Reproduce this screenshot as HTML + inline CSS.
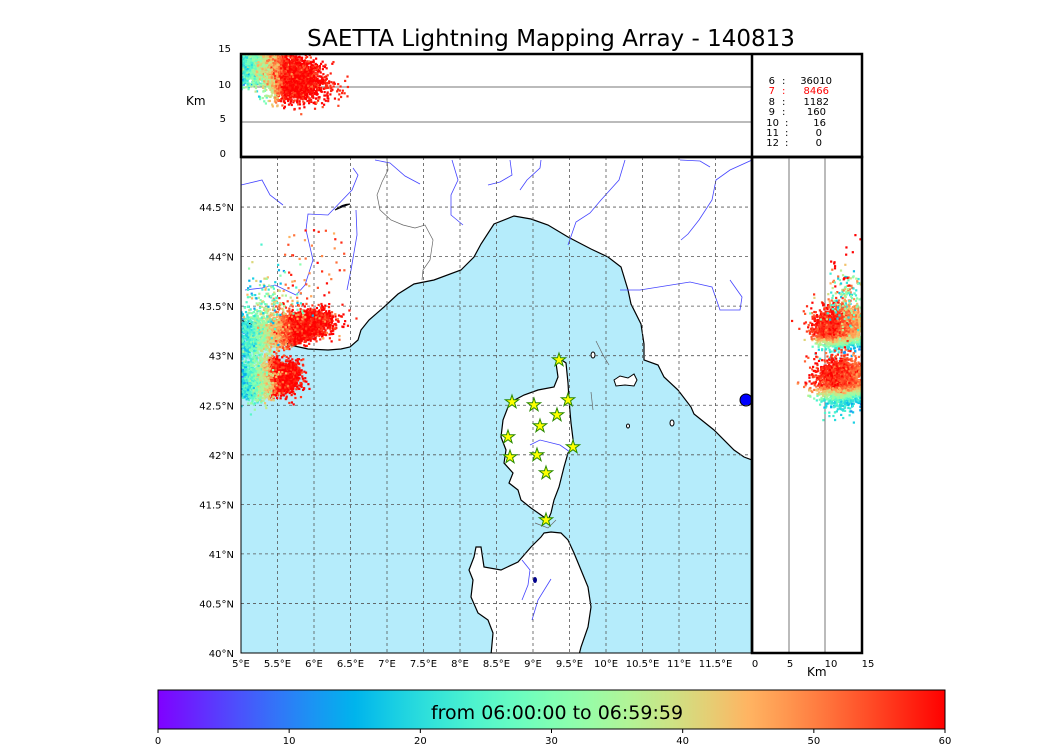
<!DOCTYPE html>
<html><head><meta charset="utf-8"><style>
body{margin:0;background:#fff;}
svg text{font-family:"DejaVu Sans","Liberation Sans",sans-serif;}
</style></head><body>
<svg id="s" width="1050" height="750" xmlns="http://www.w3.org/2000/svg">
<defs>
<clipPath id="cm"><rect x="241" y="157" width="511" height="496"/></clipPath>
<clipPath id="ct"><rect x="241" y="54" width="511" height="103"/></clipPath>
<clipPath id="cr"><rect x="752" y="157" width="110" height="496"/></clipPath>
<linearGradient id="rb" x1="0" x2="1" y1="0" y2="0"></linearGradient>
<polygon id="star" points="0,-7 1.6,-2.2 6.7,-2.2 2.6,0.8 4.1,5.7 0,2.7 -4.1,5.7 -2.6,0.8 -6.7,-2.2 -1.6,-2.2"/>
</defs>
<text x="551" y="46" font-size="23" text-anchor="middle">SAETTA Lightning Mapping Array - 140813</text>

<g clip-path="url(#cm)">
<rect x="241" y="157" width="511" height="496" fill="#b5ecfb"/>
<polygon fill="#fff" stroke="#000" stroke-width="1.2" points="241,157 241,320 264,330 274,337 290,345 308,349 328,350 341,349 350,347 358,340 361,330 369,320 384,307 398,294 414,284 434,280 461,270 474,257 481,244 494,224 514,216 531,219 548,225 568,237 591,249 608,257 621,267 628,290 631,304 641,324 644,344 644,360 658,365 664,377 678,390 691,407 694,414 714,430 734,450 744,457 752,460 752,157"/>
<polygon fill="#fff" stroke="#000" stroke-width="1.2" points="559,358 566,363 568,383 569,400 571,423 574,447 568,453 564,467 559,487 554,500 551,513 548,520 541,515 531,508 521,500 518,490 509,483 513,473 504,463 506,450 501,437 503,420 508,407 511,402 524,395 538,390 554,387 558,377 556,363"/>
<polygon fill="#fff" stroke="#000" stroke-width="1.2" points="544,533 551,532 561,533 568,540 574,553 581,570 588,587 591,607 588,627 581,647 579,655 491,655 493,633 488,620 478,613 471,597 473,580 469,570 474,557 476,547 481,547 484,567 501,570 518,562 531,547 541,537"/>
<polygon fill="#fff" stroke="#000" points="614,380 620,376 628,378 634,374 637,380 634,386 625,385 616,386"/>
<ellipse cx="593" cy="355" rx="2" ry="3" fill="#fff" stroke="#000"/>
<ellipse cx="628" cy="426" rx="1.5" ry="2" fill="#fff" stroke="#000"/>
<ellipse cx="672" cy="423" rx="2" ry="3" fill="#fff" stroke="#000"/>
<ellipse cx="746" cy="400" rx="6" ry="6" fill="#00f" stroke="#000"/>
<path d="M335,210 Q342,204 350,204 L342,207 Z" fill="#00008b" stroke="#000"/>
<g fill="none" stroke="#4444ff" stroke-width="0.8">
<path d="M241,185 L262,180 L270,195 L283,205"/>
<path d="M353,168 L358,175 L352,190 L328,215 L308,214 L306,230 L313,260 L305,285 L296,295 L275,285 L262,288 L245,290"/>
<path d="M356,210 L357,235 L351,270 L347,290"/>
<path d="M375,160 L390,163 L405,176 L420,184"/>
<path d="M452,160 L458,180 L451,195 L451,215 L463,225"/>
<path d="M510,160 L512,175 L500,182 L488,185"/>
<path d="M541,160 L540,168 L527,180 L520,190"/>
<path d="M625,160 L619,180 L610,190 L601,200 L590,213 L576,222 L568,245"/>
<path d="M752,160 L730,170 L716,180 L712,200 L699,220 L688,234 L681,240"/>
<path d="M620,290 L640,290 L690,282 L712,287 L720,310 L740,310 L742,297 L730,280"/>
<path d="M680,160 L700,161 L710,167"/>
<path d="M522,560 L530,570 L528,585 L522,600"/>
<path d="M551,579 L538,600 L532,620"/>
<path d="M530,445 L540,440 L560,445 L570,452"/>
</g>
<g fill="none" stroke="#666" stroke-width="0.7">
<path d="M387,160 L388,170 L382,182 L377,195 L380,210 L391,220 L403,225 L415,228 L425,225 L433,240 L430,260 L423,270 L422,280"/>
<path d="M596,341 L603,355 L609,365"/>
<path d="M591,392 L593,410"/>
<path d="M535,523 L548,528 L556,520"/>
</g>
<ellipse cx="535" cy="580" rx="2" ry="3" fill="#00008b"/>
<g id="grid" stroke="#555" stroke-width="0.8" stroke-dasharray="3,3"></g>
<g id="mp"></g>
<g id="stars" fill="#ff0" stroke="#2a8a00" stroke-width="1"></g>
</g>
<rect x="241" y="157" width="511" height="496" fill="none" stroke="#000" stroke-width="1"/>

<g clip-path="url(#ct)">
<line x1="241" x2="752" y1="87" y2="87" stroke="#777"/>
<line x1="241" x2="752" y1="122" y2="122" stroke="#777"/>
<g id="tp"></g>
</g>
<rect x="241" y="54" width="621" height="103" fill="none" stroke="#000" stroke-width="2.5"/>
<line x1="752" x2="752" y1="54" y2="653" stroke="#000" stroke-width="2.5"/>
<line x1="241" x2="862" y1="157" y2="157" stroke="#000" stroke-width="2.5"/>
<g font-size="10" text-anchor="end">
<text x="231" y="52">15</text><text x="231" y="88">10</text><text x="226" y="122">5</text><text x="226" y="157">0</text>
</g>
<text x="186" y="105" font-size="12">Km</text>
<g font-size="10">
<text x="775" y="84" text-anchor="end">6</text><text x="782" y="84">:</text><text x="832" y="84" text-anchor="end">36010</text>
<g fill="#f00"><text x="775" y="94" text-anchor="end">7</text><text x="782" y="94">:</text><text x="829" y="94" text-anchor="end">8466</text></g>
<text x="775" y="105" text-anchor="end">8</text><text x="782" y="105">:</text><text x="829" y="105" text-anchor="end">1182</text>
<text x="775" y="115" text-anchor="end">9</text><text x="782" y="115">:</text><text x="826" y="115" text-anchor="end">160</text>
<text x="779" y="126" text-anchor="end">10</text><text x="785" y="126">:</text><text x="826" y="126" text-anchor="end">16</text>
<text x="779" y="136" text-anchor="end">11</text><text x="785" y="136">:</text><text x="822" y="136" text-anchor="end">0</text>
<text x="779" y="146" text-anchor="end">12</text><text x="785" y="146">:</text><text x="822" y="146" text-anchor="end">0</text>
</g>

<g clip-path="url(#cr)">
<line x1="789" x2="789" y1="157" y2="653" stroke="#777"/>
<line x1="825" x2="825" y1="157" y2="653" stroke="#777"/>
<g id="rp"></g>
</g>
<rect x="752" y="157" width="110" height="496" fill="none" stroke="#000" stroke-width="2.5"/>
<g font-size="10" text-anchor="middle">
<text x="755" y="667">0</text><text x="790" y="667">5</text><text x="831" y="667">10</text><text x="868" y="667">15</text>
</g>
<text x="807" y="676" font-size="12">Km</text>
<g id="ax" font-size="10"></g>

<rect id="cb" x="158" y="690" width="787" height="39" stroke="#000" stroke-width="1"/>
<text x="557" y="719" font-size="19" text-anchor="middle">from 06:00:00 to 06:59:59</text>
<g font-size="10" text-anchor="middle" id="cbt"></g>
</svg>
<script>
var NS="http://www.w3.org/2000/svg";
function el(p,t,a){var e=document.createElementNS(NS,t);for(var k in a)e.setAttribute(k,a[k]);p.appendChild(e);return e;}
function rb(x){var r=Math.min(1,Math.abs(2*x-0.5)),g=Math.sin(Math.PI*x),b=Math.cos(Math.PI*x/2);
return "rgb("+Math.round(r*255)+","+Math.round(g*255)+","+Math.round(Math.max(0,b)*255)+")";}
var s=7;function R(){s=(s*16807)%2147483647;return s/2147483647;}
function G(){return Math.sqrt(-2*Math.log(R()+1e-9))*Math.cos(2*Math.PI*R());}
var g=document.getElementById("rb");
for(var i=0;i<=20;i++)el(g,"stop",{offset:i/20,"stop-color":rb(i/20)});
document.getElementById("cb").setAttribute("fill","url(#rb)");
var cbt=document.getElementById("cbt");
for(i=0;i<=6;i++){var x=158+i*787/6;el(cbt,"line",{x1:x,x2:x,y1:729,y2:733,stroke:"#000"});el(cbt,"text",{x:x,y:744}).textContent=i*10;}
var gr=document.getElementById("grid"),ax=document.getElementById("ax");
function X(l){return 241+(l-5)*73;}function Y(l){return 653-(l-40)*99.1;}
for(var l=5.5;l<12;l+=0.5)el(gr,"line",{x1:X(l),x2:X(l),y1:157,y2:653});
for(l=40.5;l<45;l+=0.5)el(gr,"line",{x1:241,x2:752,y1:Y(l),y2:Y(l)});
for(l=5;l<12;l+=0.5){var t=el(ax,"text",{x:X(l),y:667,"text-anchor":"middle"});t.textContent=(l%1?l.toFixed(1):l)+"°E";}
for(l=40;l<45;l+=0.5){var t=el(ax,"text",{x:234,y:Y(l)+4,"text-anchor":"end"});t.textContent=(l%1?l.toFixed(1):l)+"°N";}
var st=document.getElementById("stars");
[[559,360],[512,402],[534,405],[568,400],[557,415],[540,426],[508,437],[573,447],[510,457],[537,455],[546,473],[546,520]].forEach(function(p){el(st,"use",{href:"#star",x:p[0],y:p[1]});});
var mp=document.getElementById("mp"),tp=document.getElementById("tp"),rp=document.getElementById("rp");
function dot(p,x,y,c){el(p,"rect",{x:x-1,y:y-1,width:2.2,height:2.2,fill:c});}
function tcol(f){return rb(Math.max(0,Math.min(1,f)));}
function cl(v){return Math.max(0,Math.min(1,v));}
for(i=0;i<3000;i++){var x=298+G()*15,y=327+G()*7+(300-x)*0.2;var f=0.3+0.7*cl((x-252)/40)+G()*0.06;dot(mp,x,y,tcol(f));}
for(i=0;i<1100;i++){var x=256+G()*15,y=328+G()*13+(280-x)*0.3;var f=0.3+0.6*cl((x-241)/45)+G()*0.08;dot(mp,x,y,tcol(f));}
for(i=0;i<150;i++){var x=265+G()*20,y=300+G()*16;dot(mp,x,y,tcol(0.2+R()*0.6));}
for(i=0;i<70;i++){dot(mp,285+R()*60,230+R()*110,tcol(0.75+R()*0.25));}
for(i=0;i<2200;i++){var x=278+G()*10,y=377+G()*8;var f=0.35+0.65*cl((x-250)/25)+G()*0.06;dot(mp,x,y,tcol(f));}
for(i=0;i<1100;i++){var x=252+G()*11,y=382+G()*9;var f=0.3+0.5*cl((x-241)/35)+G()*0.08;dot(mp,x,y,tcol(f));}
for(i=0;i<3200;i++){var x=290+G()*15,y=78+G()*10+(x-290)*0.15;var f=0.3+0.7*cl((x-255)/30)+G()*0.06;dot(tp,x,y,tcol(f));}
for(i=0;i<1500;i++){var x=252+G()*14,y=64+G()*10;var f=0.35+0.55*cl((x-241)/40)+G()*0.08;dot(tp,x,y,tcol(f));}
for(i=0;i<25;i++)dot(tp,320+R()*30,75+R()*25,tcol(0.95));
for(i=0;i<2600;i++){var x=840+G()*12,y=328+G()*9;var f=0.95-cl((x-835)/30)*0.25-cl((y-335)/15)*0.6+G()*0.05;dot(rp,x,y,tcol(f));}
for(i=0;i<2600;i++){var x=842+G()*12,y=382+G()*11;var f=0.95-cl((y-385)/18)*0.6-cl((x-840)/30)*0.15+G()*0.05;dot(rp,x,y,tcol(f));}
for(i=0;i<200;i++)dot(rp,845+G()*10,300+G()*15,tcol(0.25+R()*0.7));
for(i=0;i<15;i++)dot(rp,828+R()*34,230+R()*60,tcol(1));
</script>
</body></html>
